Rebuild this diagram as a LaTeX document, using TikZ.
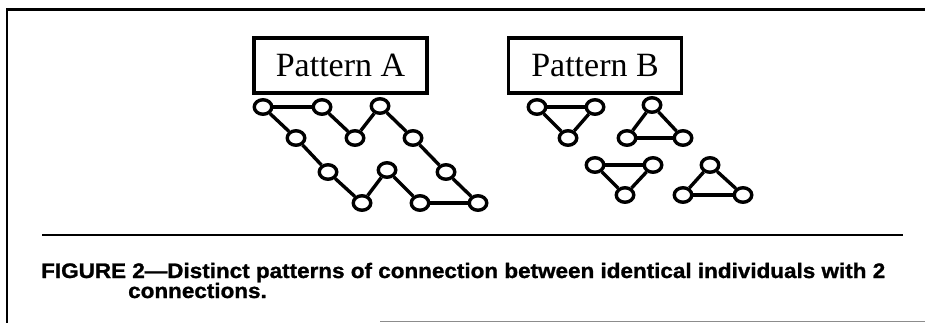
\documentclass[tikz,border=0pt]{standalone}
\usepackage{fontspec}
\setmainfont{Liberation Serif}
\newfontfamily\capfont[FakeStretch=1.07,FakeBold=1.2]{Liberation Sans}
\usetikzlibrary{shapes.geometric}
\begin{document}
\begin{tikzpicture}[x=1pt,y=-1pt,
  ind/.style={ellipse,draw,line width=3.4pt,minimum width=17.5pt,minimum height=14.5pt,inner sep=0pt,fill=white},
  link/.style={line width=3.4pt},
  patbox/.style={draw,line width=3.3pt,minimum width=173pt,minimum height=55pt,inner sep=0pt,font=\fontsize{34}{36}\selectfont},
  frameline/.style={line width=2.2pt},
  captext/.style={anchor=base west,inner sep=0pt,font=\capfont\bfseries\fontsize{21}{22}\selectfont}]
\useasboundingbox (0,0) rectangle (925,323);
\draw[frameline] (7,323) -- (7,9.5) -- (925,9.5);
\draw[line width=0.8pt,black!45] (380,321) -- (925,321);
\draw[frameline] (42,235) -- (903,235);
% boxes
\node[patbox] (boxA) at (340.5,65.5) {Pattern A};
\node[patbox] (boxB) at (595,65.5) {Pattern B};
% Pattern A
\foreach \n/\x/\y in {a1/263/107,a2/322/107,a3/380/106,a4/296/138,a5/355/138,a6/413/138,a7/328/172,a8/387/170,a9/446/172,a10/362/203,a11/420/203,a12/478/203}
  \node[ind] (\n) at (\x,\y) {};
\draw[link] (a1) -- (a2);
\draw[link] (a2) -- (a5);
\draw[link] (a5) -- (a3);
\draw[link] (a3) -- (a6);
\draw[link] (a6) -- (a9);
\draw[link] (a9) -- (a12);
\draw[link] (a12) -- (a11);
\draw[link] (a11) -- (a8);
\draw[link] (a8) -- (a10);
\draw[link] (a10) -- (a7);
\draw[link] (a7) -- (a4);
\draw[link] (a4) -- (a1);
% Pattern B
\foreach \n/\x/\y in {b1/537/107,b2/595/107,b3/568/138,b4/652/105,b5/627/138,b6/683/138,b7/595/165,b8/653/165,b9/625/195,b10/710/165,b11/683/195,b12/743/195}
  \node[ind] (\n) at (\x,\y) {};
\draw[link] (b1) -- (b2);
\draw[link] (b2) -- (b3);
\draw[link] (b3) -- (b1);
\draw[link] (b4) -- (b5);
\draw[link] (b5) -- (b6);
\draw[link] (b6) -- (b4);
\draw[link] (b7) -- (b8);
\draw[link] (b8) -- (b9);
\draw[link] (b9) -- (b7);
\draw[link] (b10) -- (b11);
\draw[link] (b11) -- (b12);
\draw[link] (b12) -- (b10);
% caption
\node[captext] (cap1) at (41,278) {FIGURE 2—Distinct patterns of connection between identical individuals with 2};
\node[captext] (cap2) at (128,298) {connections.};
\end{tikzpicture}
\end{document}
